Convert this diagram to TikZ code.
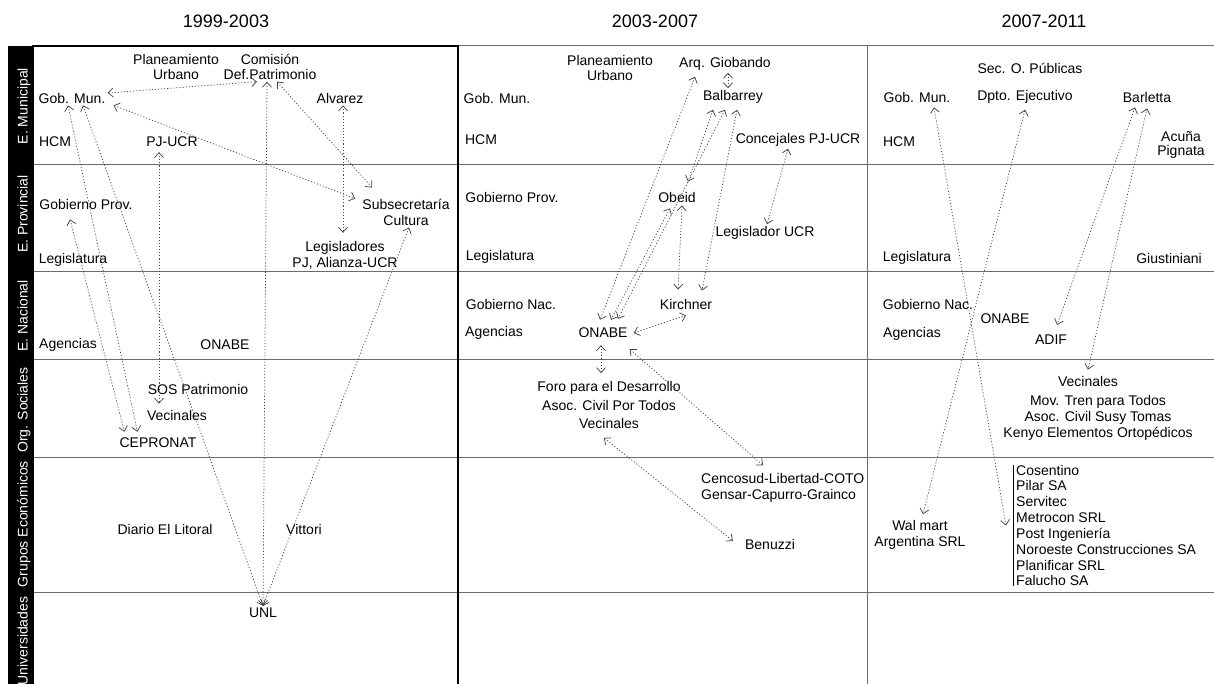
\documentclass[tikz,border=0pt]{standalone}
\usepackage{fontspec}
\setmainfont{Liberation Sans}
\usetikzlibrary{arrows.meta,positioning}
\definecolor{linegray}{rgb}{.42,.42,.42}
\definecolor{arrowgray}{rgb}{.28,.28,.28}
\def\Norm{\fontsize{14}{16}\selectfont}

\begin{document}
\begin{tikzpicture}[x=1pt,y=-1pt,% pixel grid, y pointing down
		every node/.style={
			align=center,	% so that "\\" breaks the line
			inner sep=2pt,
			font=\Norm
		},
		head/.style={font=\fontsize{18}{20}\selectfont},
		side/.style={rotate=90,text=white,text height=10pt,text depth=3pt},
		tight/.style={font=\fontsize{14}{14.5}\selectfont},
		every edge/.style={draw,arrowgray,line width=0.75pt,dash pattern=on 1.1pt off 2pt},
		>={Straight Barb[length=5pt,width=9pt]}
	]
	\useasboundingbox (0,0) rectangle (1214,684);
	% grid
	\fill[black] (8,46) rectangle (33,684);
	\foreach \y in {165,272,359,457,592}
		\draw[linegray,line width=1pt] (33,\y) -- (1214,\y);
	\draw[linegray,line width=1pt] (458,46) -- (1214,46);
	\draw[linegray,line width=1pt] (867,46) -- (867,690);
	\draw[black,line width=2.2pt] (33,690) -- (33,46) -- (458,46) -- (458,690);
	% periods
	\node[head](H1) at (226,21) {1999-2003};
	\node[head](H2) at (655,21) {2003-2007};
	\node[head](H3) at (1044,21) {2007-2011};
	% levels
	\node[side](S1) at (24,106) {E. Municipal};
	\node[side](S2) at (24,214) {E. Provincial};
	\node[side](S3) at (24,316) {E. Nacional};
	\node[side](S4) at (24,410) {Org. Sociales};
	\node[side](S5) at (24,524) {Grupos Económicos};
	\node[side](S6) at (24,641) {Universidades};
	% 1999-2003
	\node[tight](Pla1) at (176,67) {Planeamiento\\Urbano};
	\node[tight](Com1) at (270,67) {Comisión\\Def.Patrimonio};
	\node(Gob1) at (72,98) {Gob. Mun.};
	\node(Alv1) at (340,98) {Alvarez};
	\node(Hcm1) at (55,142) {HCM};
	\node(Pju1) at (172,142) {PJ-UCR};
	\node(Gpr1) at (86,204) {Gobierno Prov.};
	\node(Sub1) at (406,212) {Subsecretaría\\Cultura};
	\node(Leg1) at (345,255) {Legisladores\\PJ, Alianza-UCR};
	\node(Lgs1) at (73,260) {Legislatura};
	\node(Age1) at (68,345) {Agencias};
	\node(Ona1) at (225,345) {ONABE};
	\node(Sos1) at (198,389) {SOS Patrimonio};
	\node(Vec1) at (177,415) {Vecinales};
	\node(Cep1) at (158,443) {CEPRONAT};
	\node(Dia1) at (165,529) {Diario El Litoral};
	\node(Vit1) at (304,529) {Vittori};
	\node(Unl1) at (263,613) {UNL};
	% 2003-2007
	\node[tight](Pla2) at (610,68) {Planeamiento\\Urbano};
	\node(Arq2) at (725,64) {Arq. Giobando};
	\node(Bal2) at (733,97) {Balbarrey};
	\node(Gob2) at (497,98) {Gob. Mun.};
	\node(Hcm2) at (481,140) {HCM};
	\node(Con2) at (798,140) {Concejales PJ-UCR};
	\node(Gpr2) at (512,197) {Gobierno Prov.};
	\node(Obe2) at (677,197) {Obeid};
	\node(Lgu2) at (765,233) {Legislador UCR};
	\node(Lgs2) at (500,257) {Legislatura};
	\node(Gna2) at (511,304) {Gobierno Nac.};
	\node(Kir2) at (686,304) {Kirchner};
	\node(Age2) at (494,333) {Agencias};
	\node(Ona2) at (603,333) {ONABE};
	\node[font=\fontsize{14}{18.5}\selectfont](For2) at (609,405) {Foro para el Desarrollo\\Asoc. Civil Por Todos\\Vecinales};
	\node[align=left,anchor=west](Cen2) at (699,488) {Cencosud-Libertad-COTO\\Gensar-Capurro-Grainco};
	\node(Ben2) at (770,544) {Benuzzi};
	% 2007-2011
	\node(Sec3) at (1030,68) {Sec. O. Públicas};
	\node(Gob3) at (917,97) {Gob. Mun.};
	\node(Dpt3) at (1025,97) {Dpto. Ejecutivo};
	\node(Bar3) at (1147,97) {Barletta};
	\node(Hcm3) at (899,142) {HCM};
	\node[tight](Acu3) at (1181,145) {Acuña\\Pignata};
	\node(Lgs3) at (917,258) {Legislatura};
	\node(Giu3) at (1169,258) {Giustiniani};
	\node(Gna3) at (928,304) {Gobierno Nac.};
	\node(Ona3) at (1005,319) {ONABE};
	\node(Age3) at (912,334) {Agencias};
	\node(Adi3) at (1051,340) {ADIF};
	\node(Vec3) at (1088,381) {Vecinales};
	\node(Mov3) at (1098,418) {Mov. Tren para Todos\\Asoc. Civil Susy Tomas\\Kenyo Elementos Ortopédicos};
	\node(Wal3) at (920,535) {Wal mart\\Argentina SRL};
	\node[align=left,anchor=west,inner xsep=3pt,inner ysep=0pt,font=\fontsize{14}{15.85}\selectfont](Cos3) at (1013,525.5) {Cosentino\\Pilar SA\\Servitec\\Metrocon SRL\\Post Ingeniería\\Noroeste Construcciones SA\\Planificar SRL\\Falucho SA};
	\draw[line width=0.8pt] (Cos3.north west) -- (Cos3.south west);
	\path[<->]
	([yshift=5pt]Gob1.east) edge [] ([xshift=-13pt]Com1.south)
	([xshift=-3pt]Com1.south) edge [] (Unl1.north)
	([xshift=7pt]Com1.south) edge [] ([shift={(12,-9)}]Sub1.north west)
	([xshift=6pt]Gob1.south east) edge [] ([shift={(-5,2)}]Sub1.north west)
	([xshift=3pt]Alv1.south) edge [] ([shift={(-2,-6)}]Leg1.north)
	([xshift=-4pt]Gob1.south) edge [] ([shift={(20,-4)}]Cep1.north west)
	([shift={(-16,8)}]Gpr1.south) edge [] ([shift={(7,-4)}]Cep1.north west)
	([xshift=11pt]Gob1.south) edge [] (Unl1.north)
	([shift={(-13,3)}]Pju1.south) edge [] ([shift={(-18,-4)}]Vec1.north)
	([xshift=3pt]Sub1.south) edge [] (Unl1.north)
	([xshift=3pt]Arq2.south) edge [] ([xshift=-5pt]Bal2.north)
	([shift={(-30,4)}]Arq2.south) edge [] ([shift={(-3,-6)}]Ona2.north)
	([shift={(-20,4)}]Bal2.south) edge [] ([shift={(11,-8)}]Obe2.north)
	([shift={(-8,4)}]Bal2.south) edge [] ([shift={(15,-7)}]Ona2.north)
	([shift={(4,4)}]Bal2.south) edge [] ([shift={(16,-6)}]Kir2.north)
	([shift={(-7,4)}]Obe2.south) edge [] ([shift={(8,-6)}]Ona2.north)
	([shift={(5,1)}]Obe2.south) edge [] ([shift={(-8,-7)}]Kir2.north)
	([xshift=-10pt]Con2.south) edge [] ([xshift=2pt]Lgu2.north)
	([xshift=4pt]Ona2.east) edge [] ([yshift=-4pt]Kir2.south)
	([shift={(-2,5)}]Ona2.south) edge [] ([shift={(-8,-6)}]For2.north)
	([yshift=-9pt]Ona2.south east) edge [] ([shift={(64,-6)}]Cen2.north west)
	([shift={(-5,7)}]For2.south) edge [] ([shift={(-10,-3)}]Ben2.west)
	([shift={(17,3)}]Gob3.south) edge [] ([xshift=-7pt]Cos3.west)
	([yshift=-4pt]Dpt3.south) edge [] ([shift={(3,-4)}]Wal3.north)
	([shift={(-12,3)}]Bar3.south) edge [] ([shift={(6,-8)}]Adi3.north)
	([yshift=-4pt]Bar3.south) edge [] ([yshift=4pt]Vec3.north)
	;
\end{tikzpicture}
\end{document}
